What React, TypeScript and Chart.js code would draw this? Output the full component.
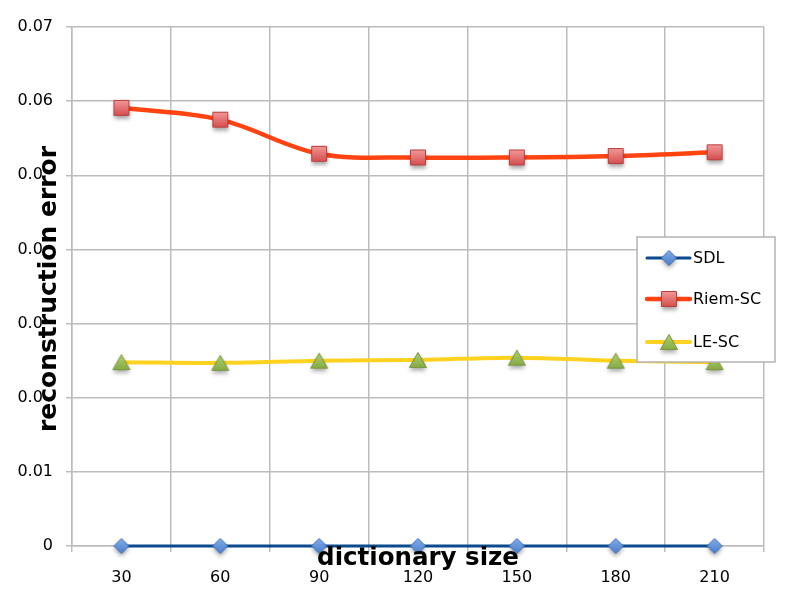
import React, { useEffect, useRef } from 'react';
import { Chart, registerables } from 'chart.js';

Chart.register(...registerables);

const categories = ['30', '60', '90', '120', '150', '180', '210'];
const sdlValues = [0, 0, 0, 0, 0, 0, 0];
const riemScValues = [0.0591, 0.0575, 0.0529, 0.0524, 0.0524, 0.0526, 0.0531];
const leScValues = [0.0248, 0.0247, 0.025, 0.0251, 0.0254, 0.025, 0.0248];
const seriesNames = ['SDL', 'Riem-SC', 'LE-SC'];
const yMin = 0;
const yMax = 0.07;
const yStep = 0.01;
const xTitle = 'dictionary size';
const yTitle = 'reconstruction error';

const FONT = 'DejaVu Sans';

function makeMarker(kind: string, top: string, bot: string, stroke: string): HTMLCanvasElement {
  const s = 32;
  const c = document.createElement('canvas');
  c.width = s;
  c.height = s;
  const ctx = c.getContext('2d')!;
  const cx = s / 2;
  const cy = s / 2;
  ctx.beginPath();
  if (kind === 'diamond') {
    const r = 7.5;
    ctx.moveTo(cx, cy - r);
    ctx.lineTo(cx + r, cy);
    ctx.lineTo(cx, cy + r);
    ctx.lineTo(cx - r, cy);
  } else if (kind === 'square') {
    const h = 7.5;
    ctx.rect(cx - h, cy - h, 2 * h, 2 * h);
  } else {
    ctx.moveTo(cx, cy - 7.5);
    ctx.lineTo(cx + 8.5, cy + 7.5);
    ctx.lineTo(cx - 8.5, cy + 7.5);
  }
  ctx.closePath();
  const g = ctx.createLinearGradient(0, cy - 8, 0, cy + 8);
  g.addColorStop(0, top);
  g.addColorStop(1, bot);
  ctx.save();
  ctx.shadowColor = 'rgba(0,0,0,0.35)';
  ctx.shadowBlur = 4;
  ctx.shadowOffsetY = 3;
  ctx.fillStyle = g;
  ctx.fill();
  ctx.restore();
  ctx.lineWidth = 1;
  ctx.strokeStyle = stroke;
  ctx.stroke();
  return c;
}

export default function App() {
  const ref = useRef<HTMLCanvasElement | null>(null);

  useEffect(() => {
    if (!ref.current) return;
    const diamond = makeMarker('diamond', '#82aeea', '#4a7cc8', '#3e6fb8');
    const square = makeMarker('square', '#f39a9a', '#d44c4c', '#b83d3d');
    const tri = makeMarker('triangle', '#b2d272', '#84aa44', '#76963a');

    const lineColors = ['#0b4a8c', '#ff4412', '#ffd21f'];
    const lineWidths = [3, 4.5, 4];
    const markers = [diamond, square, tri];

    const overlay = {
      id: 'overlay',
      afterDraw(chart: any) {
        const ctx = chart.ctx as CanvasRenderingContext2D;
        // legend
        ctx.save();
        const bx = 637, by = 237, bw = 138, bh = 125;
        ctx.fillStyle = '#ffffff';
        ctx.fillRect(bx, by, bw, bh);
        ctx.strokeStyle = '#b3b3b3';
        ctx.lineWidth = 1.5;
        ctx.strokeRect(bx, by, bw, bh);
        const ys = [258, 299, 342];
        seriesNames.forEach((name, i) => {
          const y = ys[i];
          ctx.beginPath();
          ctx.strokeStyle = lineColors[i];
          ctx.lineWidth = lineWidths[i];
          ctx.lineCap = 'round';
          ctx.moveTo(647, y);
          ctx.lineTo(690, y);
          ctx.stroke();
          const m = markers[i];
          ctx.drawImage(m, 669 - m.width / 2, y - m.height / 2);
          ctx.fillStyle = '#000000';
          ctx.font = `16px "${FONT}"`;
          ctx.textAlign = 'left';
          ctx.textBaseline = 'middle';
          ctx.fillText(name, 693, y + 1);
        });
        ctx.restore();

        // y title
        ctx.save();
        ctx.fillStyle = '#ffffff';
        ctx.fillRect(43, 146, 14, 286);
        ctx.translate(56, 289);
        ctx.rotate(-Math.PI / 2);
        ctx.font = `bold 25px "${FONT}"`;
        ctx.fillStyle = '#000000';
        ctx.textAlign = 'center';
        ctx.textBaseline = 'alphabetic';
        ctx.fillText(yTitle, 0, 0);
        ctx.restore();

        // x title
        ctx.save();
        ctx.font = `bold 24.5px "${FONT}"`;
        ctx.fillStyle = '#000000';
        ctx.textAlign = 'center';
        ctx.textBaseline = 'alphabetic';
        ctx.fillText(xTitle, 418, 565);
        ctx.restore();
      },
    };

    const values = [sdlValues, riemScValues, leScValues];
    const chart = new Chart(ref.current, {
      type: 'line',
      data: {
        labels: categories,
        datasets: seriesNames.map((name, i) => ({
          label: name,
          data: values[i],
          borderColor: lineColors[i],
          backgroundColor: lineColors[i],
          borderWidth: lineWidths[i],
          tension: 0.35,
          pointStyle: markers[i] as any,
          pointRadius: 8,
          pointHoverRadius: 8,
          clip: false as any,
          fill: false,
        })),
      },
      options: {
        animation: false,
        responsive: false,
        devicePixelRatio: 1,
        layout: { padding: { top: 27, right: 28, left: 0, bottom: 0 } },
        plugins: {
          legend: { display: false },
          tooltip: { enabled: false },
          title: { display: false },
        },
        scales: {
          x: {
            type: 'category',
            offset: true,
            grid: {
              offset: true,
              color: '#bcbcbc',
              lineWidth: 1.5,
              tickLength: 6,
              drawTicks: true,
            },
            border: { color: '#bcbcbc', width: 1.5 },
            ticks: {
              color: '#000000',
              font: { family: FONT, size: 16 },
              padding: 16,
              maxRotation: 0,
            },
            afterFit(scale: any) {
              scale.height = 53;
            },
          },
          y: {
            min: yMin,
            max: yMax,
            grid: {
              color: '#bcbcbc',
              lineWidth: 1.5,
              tickLength: 6,
            },
            border: { color: '#bcbcbc', width: 1.5 },
            ticks: {
              stepSize: yStep,
              color: '#000000',
              font: { family: FONT, size: 16 },
              padding: 13,
              callback: (v: any) => (Number(v) === 0 ? '0' : Number(v).toFixed(2)),
            },
            afterFit(scale: any) {
              scale.width = 72;
            },
          },
        },
      },
      plugins: [overlay],
    });
    return () => chart.destroy();
  }, []);

  return (
    <div style={{ position: 'absolute', left: 0, top: 0, width: 792, height: 599, background: '#fff' }}>
      <canvas ref={ref} width={792} height={599} style={{ display: 'block' }} />
    </div>
  );
}
